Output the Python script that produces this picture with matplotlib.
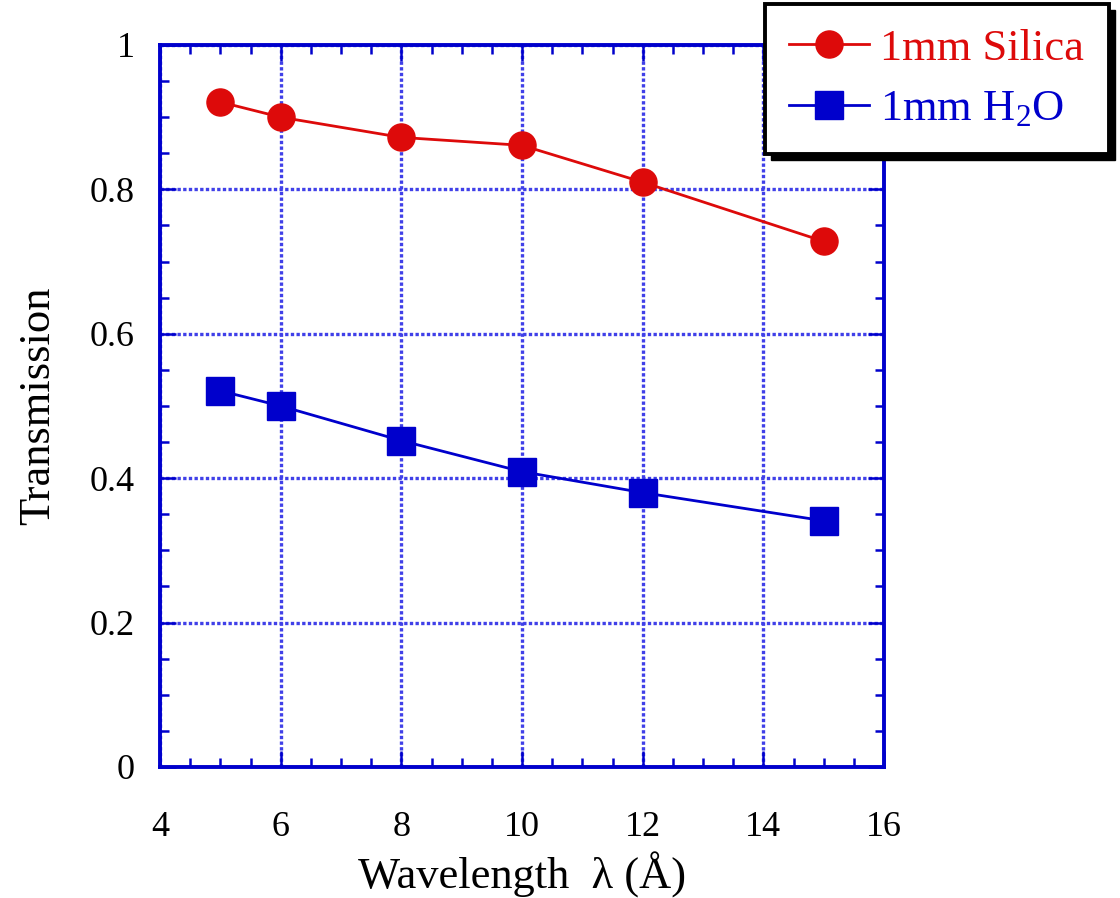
import matplotlib as mpl
import matplotlib.pyplot as plt
from matplotlib.patches import Rectangle
from matplotlib.ticker import MultipleLocator

mpl.use('Agg')
plt.rcParams.update({
    'font.family': ['Liberation Serif', 'DejaVu Serif'],
    'mathtext.fontset': 'custom',
    'mathtext.rm': 'Liberation Serif',
})

wavelength = [5, 6, 8, 10, 12, 15]
silica = [0.921, 0.900, 0.872, 0.861, 0.810, 0.728]
water = [0.521, 0.500, 0.452, 0.409, 0.380, 0.341]

RED = '#DD0A0A'
BLUE = '#0000CC'


def fmt_y(v, _):
    v = round(v, 2)
    if v in (0, 1):
        return f'{int(v)}'
    return f'{v:.1f}'


fig = plt.figure(figsize=(11.2, 8.98), dpi=100)
ax = fig.add_axes([0.1429, 0.1459, 0.6464, 0.8040])

ax.plot(wavelength, silica, color=RED, lw=2, marker='o', ms=19.5,
        label='1mm Silica', zorder=3)
ax.plot(wavelength, water, color=BLUE, lw=2, marker='s', ms=20.5,
        label=r'1mm $\mathregular{H_{2}O}$', zorder=3)

ax.set_xlim(4, 16)
ax.set_ylim(0, 1)
ax.xaxis.set_major_locator(MultipleLocator(2))
ax.xaxis.set_minor_locator(MultipleLocator(0.5))
ax.yaxis.set_major_locator(MultipleLocator(0.2))
ax.yaxis.set_minor_locator(MultipleLocator(0.05))
ax.yaxis.set_major_formatter(fmt_y)

ax.grid(True, which='major', color='#4040E8', lw=2.4, ls=(0, (1, 0.7)))
for s in ax.spines.values():
    s.set_color(BLUE)
    s.set_linewidth(2.8)

ax.tick_params(which='both', direction='in', top=True, right=True,
               color=BLUE, width=1.8, labelsize=26)
ax.tick_params(which='major', length=11.5)
ax.tick_params(which='minor', length=6.5)
ax.tick_params(axis='y', which='major', pad=18)
ax.tick_params(axis='x', which='major', pad=32)

ax.set_xlabel('Wavelength  λ (Å)', fontsize=32)
ax.xaxis.set_label_coords(0.5, -0.117)
ax.set_ylabel('Transmission', fontsize=32, labelpad=23)

leg = fig.legend(loc='upper right', bbox_to_anchor=(0.99, 0.995),
                 fontsize=32, labelcolor='linecolor', fancybox=False,
                 edgecolor='black', framealpha=1, borderpad=0.55,
                 handlelength=1.8, handletextpad=0.25, labelspacing=0.45,
                 borderaxespad=0)
leg.get_frame().set_linewidth(2.8)
leg.set_zorder(5)

# drop shadow under the legend box
fig.canvas.draw()
bb = leg.get_window_extent().transformed(fig.transFigure.inverted())
dx, dy = 6 / 1120, 6 / 898
fig.patches.append(Rectangle((bb.x0 + dx, bb.y0 - dy), bb.width, bb.height,
                             transform=fig.transFigure, color='black',
                             zorder=4))

fig.savefig('out.png', dpi=100)
